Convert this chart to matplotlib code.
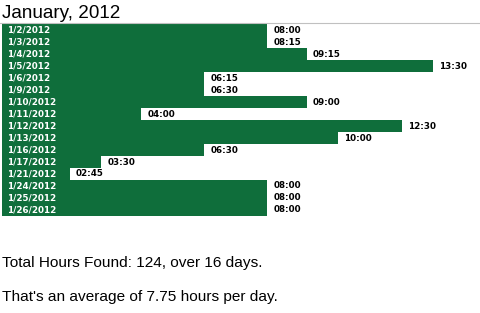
import numpy as np
import matplotlib
matplotlib.use("Agg")
import matplotlib.pyplot as plt
from matplotlib.lines import Line2D

# data
dates = ['1/2/2012', '1/3/2012', '1/4/2012', '1/5/2012', '1/6/2012', '1/9/2012',
         '1/10/2012', '1/11/2012', '1/12/2012', '1/13/2012', '1/16/2012',
         '1/17/2012', '1/21/2012', '1/24/2012', '1/25/2012', '1/26/2012']
hour_labels = ['08:00', '08:15', '09:15', '13:30', '06:15', '06:30', '09:00', '04:00',
               '12:30', '10:00', '06:30', '03:30', '02:45', '08:00', '08:00', '08:00']
hours = [8, 8.25, 9.25, 13.5, 6.25, 6.5, 9, 4, 12.5, 10, 6.5, 3.5, 2.75, 8, 8, 8]
# drawn bar lengths as measured on the picture (hours), the page rounds them oddly
bar_len = [8.0, 8.0, 9.2, 13.0, 6.1, 6.1, 9.2, 4.2, 12.07, 10.14, 6.1, 3.0, 2.05,
           8.0, 8.0, 8.0]

title = 'January, 2012'
green = '#0f6e3b'

W, H = 480, 313
fig = plt.figure(figsize=(W / 100, H / 100), dpi=100)

# bar area: x from 2px, rows from y=24 to y=216 (12px each)
ax = fig.add_axes([2 / W, (H - 216) / H, 478 / W, 192 / H])
ax.set_axis_off()

y = np.arange(len(dates))
ax.barh(y, bar_len, height=1.0, color=green, linewidth=0)
ax.set_xlim(0, 478 / 33.15)
ax.set_ylim(len(dates) - 0.5, -0.5)

small = dict(family='DejaVu Sans', fontweight='bold', fontsize=6.3, va='center')
for i in range(len(dates)):
    ax.annotate(dates[i], xy=(0, i), xytext=(3.6, 0), textcoords='offset points',
                color='white', ha='left', **small)
    ax.annotate(hour_labels[i], xy=(bar_len[i], i), xytext=(4.3, 0),
                textcoords='offset points', color='black', ha='left', **small)

# title and grey rule
fig.text(2 / W, 1 - 18 / H, title, fontsize=13.6, family='Liberation Sans',
         va='baseline', ha='left')
fig.add_artist(Line2D([0, 1], [1 - 23 / H, 1 - 23 / H], transform=fig.transFigure,
                      color='#c0c0c0', lw=0.8))

total = sum(hours)
days = len(dates)
fig.text(2 / W, 1 - 267 / H, f'Total Hours Found: {total:g}, over {days} days.',
         fontsize=11.1, family='Liberation Sans', va='baseline', ha='left')
fig.text(2 / W, 1 - 301 / H, f"That's an average of {total / days:g} hours per day.",
         fontsize=11.1, family='Liberation Sans', va='baseline', ha='left')

fig.savefig('out.png', dpi=100)
